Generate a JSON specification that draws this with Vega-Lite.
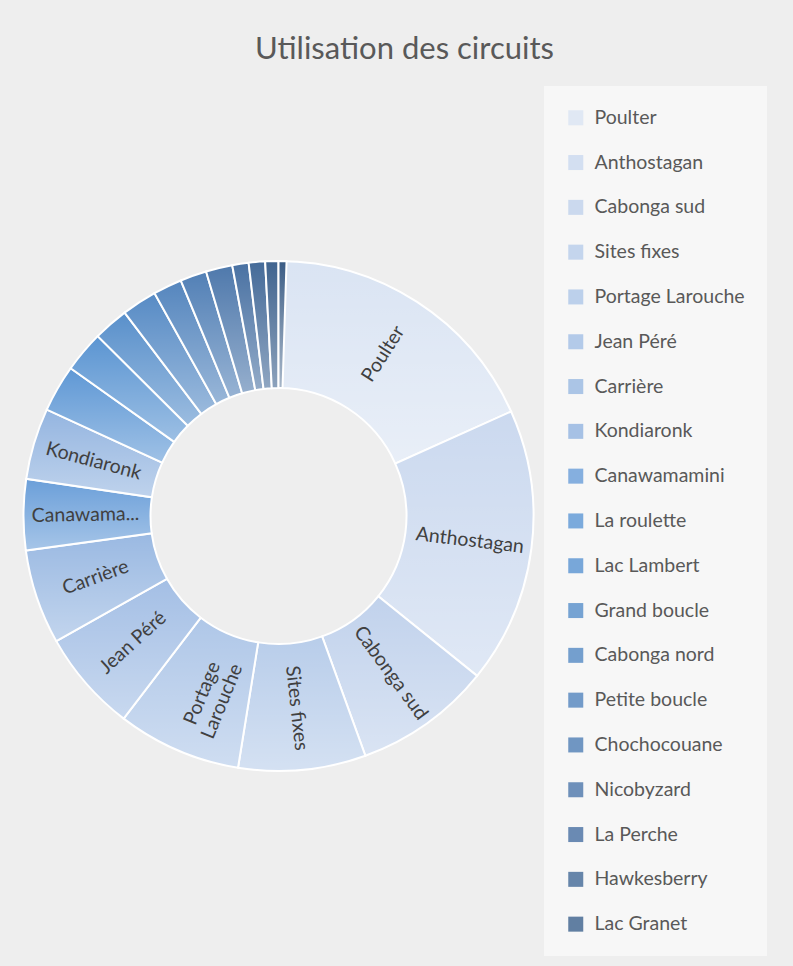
{
  "$schema": "https://vega.github.io/schema/vega-lite/v6.json",
  "width": 537,
  "height": 882,
  "autosize": {"type": "none"},
  "padding": {"left": 10, "top": 75, "right": 246, "bottom": 9},
  "background": "#eeeeee",
  "config": {"view": {"stroke": null}},
  "title": {
    "text": "Utilisation des circuits",
    "font": "Lato",
    "fontSize": 31,
    "fontWeight": "normal",
    "color": "#595959",
    "anchor": "middle",
    "dx": 126,
    "offset": -15,
    "baseline": "alphabetic"
  },
  "data": {
    "values": [
      {"circuit": "Poulter", "value": 18.19, "label": "Poulter"},
      {"circuit": "Anthostagan", "value": 17.42, "label": "Anthostagan"},
      {"circuit": "Cabonga sud", "value": 8.64, "label": "Cabonga sud"},
      {"circuit": "Sites fixes", "value": 8.03, "label": "Sites fixes"},
      {"circuit": "Portage Larouche", "value": 7.81, "label": "Portage\nLarouche"},
      {"circuit": "Jean Péré", "value": 6.42, "label": "Jean Péré"},
      {"circuit": "Carrière", "value": 5.97, "label": "Carrière"},
      {"circuit": "Canawamamini", "value": 4.47, "label": "Canawama..."},
      {"circuit": "Kondiaronk", "value": 4.5, "label": "Kondiaronk"},
      {"circuit": "La roulette", "value": 2.97, "label": ""},
      {"circuit": "Lac Lambert", "value": 2.61, "label": ""},
      {"circuit": "Grand boucle", "value": 2.22, "label": ""},
      {"circuit": "Cabonga nord", "value": 2.22, "label": ""},
      {"circuit": "Petite boucle", "value": 1.81, "label": ""},
      {"circuit": "Chochocouane", "value": 1.67, "label": ""},
      {"circuit": "Nicobyzard", "value": 1.67, "label": ""},
      {"circuit": "La Perche", "value": 1.03, "label": ""},
      {"circuit": "Hawkesberry", "value": 1.03, "label": ""},
      {"circuit": "Lac Granet", "value": 0.83, "label": ""},
      {"circuit": "Autres", "value": 0.5, "label": ""}
    ]
  },
  "transform": [
    {"stack": "value", "groupby": [], "as": ["v0", "v1"]},
    {"joinaggregate": [{"op": "sum", "field": "value", "as": "total"}]},
    {"calculate": "(datum.v0 + datum.v1) / 2", "as": "vm"},
    {"calculate": "datum.vm / datum.total * 360", "as": "deg"},
    {"calculate": "datum.deg <= 180 ? datum.deg - 90 : datum.deg - 270", "as": "rot"}
  ],
  "layer": [
    {
      "mark": {"type": "arc", "outerRadius": 255, "innerRadius": 128, "stroke": "white", "strokeWidth": 2},
      "encoding": {
        "theta": {"field": "v0", "type": "quantitative", "stack": null, "scale": {"nice": false, "zero": true}},
        "theta2": {"field": "v1"},
        "color": {
          "field": "circuit",
          "type": "nominal",
          "scale": {
            "domain": ["Poulter", "Anthostagan", "Cabonga sud", "Sites fixes", "Portage Larouche", "Jean Péré", "Carrière", "Kondiaronk", "Canawamamini", "La roulette", "Lac Lambert", "Grand boucle", "Cabonga nord", "Petite boucle", "Chochocouane", "Nicobyzard", "La Perche", "Hawkesberry", "Lac Granet", "Autres"],
            "range": ["#dae4f3", "#cbd9ef", "#c1d2ec", "#b8cdea", "#afc7e8", "#a4bfe5", "#9ab9e2", "#94b5e0", "#6b9fd9", "#5f98d5", "#5b95d2", "#5990cb", "#578bc5", "#5586be", "#5280b6", "#4f79ac", "#4a72a3", "#456b99", "#40648f", "#3a5c85"]
          },
          "legend": {
            "orient": "none",
            "legendX": 534,
            "legendY": 11,
            "direction": "vertical",
            "title": null,
            "values": ["Poulter", "Anthostagan", "Cabonga sud", "Sites fixes", "Portage Larouche", "Jean Péré", "Carrière", "Kondiaronk", "Canawamamini", "La roulette", "Lac Lambert", "Grand boucle", "Cabonga nord", "Petite boucle", "Chochocouane", "Nicobyzard", "La Perche", "Hawkesberry", "Lac Granet"],
            "symbolType": "square",
            "symbolSize": 225,
            "symbolStrokeWidth": 0,
            "symbolOpacity": 0.82,
            "labelFont": "Lato",
            "labelFontSize": 19.5,
            "labelColor": "#595959",
            "labelLimit": 300,
            "labelOffset": 9,
            "rowPadding": 23.8,
            "padding": 22,
            "fillColor": "rgba(255,255,255,0.55)"
          }
        }
      }
    },
    {
      "mark": {
        "type": "arc",
        "outerRadius": 255,
        "innerRadius": 128,
        "fill": {"gradient": "linear", "x1": 0, "y1": 0, "x2": 0, "y2": 1, "stops": [{"offset": 0, "color": "rgba(255,255,255,0)"}, {"offset": 1, "color": "rgba(255,255,255,0.4)"}]}
      },
      "encoding": {
        "theta": {"field": "v0", "type": "quantitative", "stack": null},
        "theta2": {"field": "v1"}
      }
    },
    {
      "transform": [{"filter": "datum.label != ''"}],
      "mark": {"type": "text", "radius": 193, "font": "Lato", "fontSize": 19.5, "color": "#404040", "align": "center", "baseline": "middle", "lineBreak": "\n"},
      "encoding": {
        "theta": {"field": "vm", "type": "quantitative", "stack": null},
        "text": {"field": "label"},
        "angle": {"field": "rot", "type": "quantitative", "scale": null}
      }
    }
  ]
}
